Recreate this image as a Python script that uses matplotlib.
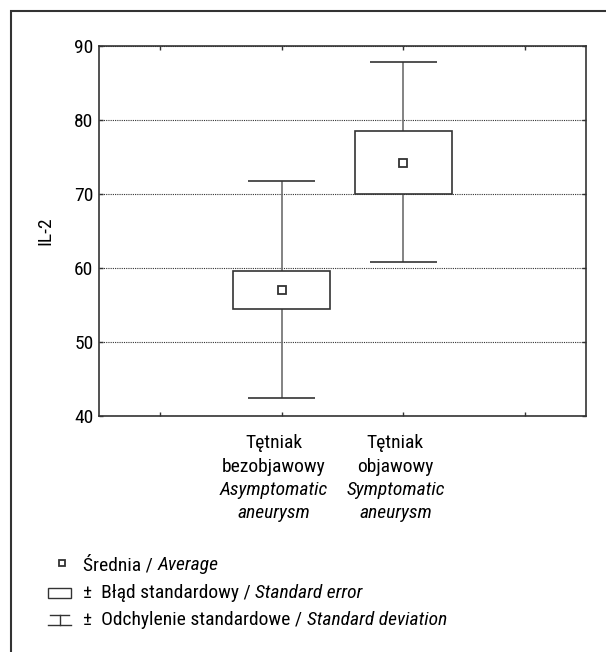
import numpy as np
import matplotlib
matplotlib.use("Agg")
import matplotlib.pyplot as plt
from matplotlib.lines import Line2D
from matplotlib.patches import Rectangle

plt.rcParams['font.family'] = ['Roboto Condensed', 'DejaVu Sans']

# data
groups_pl = ['Tętniak\nbezobjawowy', 'Tętniak\nobjawowy']
groups_en = ['Asymptomatic\naneurysm', 'Symptomatic\naneurysm']
positions = [1.5, 2.5]
means = [57.0, 74.2]
se_low = [54.5, 70.05]
se_high = [59.65, 78.55]
sd_low = [42.4, 60.85]
sd_high = [71.75, 87.8]

dark = '#333333'
whisk = '#6e6e6e'
FS = 14

W, H = 606, 652
fig = plt.figure(figsize=(W / 100, H / 100), dpi=100)
ax = fig.add_axes([99 / W, 1 - 416 / H, (586 - 99) / W, (416 - 46) / H])

# whiskers (sd), behind the boxes
ax.vlines(positions, sd_low, sd_high, color=whisk, lw=1.2, zorder=2)
ax.hlines(sd_low, np.array(positions) - 0.275, np.array(positions) + 0.275,
          color=dark, lw=1.2, zorder=2)
ax.hlines(sd_high, np.array(positions) - 0.275, np.array(positions) + 0.275,
          color=dark, lw=1.2, zorder=2)
# boxes (se)
ax.bar(positions, np.array(se_high) - np.array(se_low), bottom=se_low,
       width=0.8, facecolor='white', edgecolor=dark, lw=1.2, zorder=3)
# means
ax.plot(positions, means, 's', ms=5.5, mfc='white', mec=dark, mew=1.3,
        zorder=4)

ax.set_xlim(0, 4)
ax.set_ylim(40, 90)
ax.set_yticks(np.arange(40, 91, 10))
ax.set_xticks([0.5, 1.5, 2.5, 3.5])
ax.set_xticklabels([])
ax.yaxis.grid(True, linestyle=(0, (1, 1)), color=dark, lw=0.8)
ax.set_axisbelow(True)
ax.tick_params(axis='both', direction='in', length=3, width=1, color=dark,
               top=True, right=True, labelsize=FS, pad=4)
for s in ax.spines.values():
    s.set_color(dark)
    s.set_linewidth(1.2)
ax.set_ylabel('IL-2', fontsize=FS, labelpad=14)

# category labels under the axis
for x, pl, en in zip(positions, groups_pl, groups_en):
    px = ax.transData.transform((x, 0))[0] - 8
    for yy, t in zip([443, 466.5], pl.split('\n')):
        fig.text(px / W, 1 - yy / H, t, ha='center', va='center', fontsize=FS)
    for yy, t in zip([490, 513.5], en.split('\n')):
        fig.text(px / W, 1 - yy / H, t, ha='center', va='center', fontsize=FS,
                 style='italic')

# outer frame
fig.patches.append(Rectangle((11 / W, -0.1), 1.2, 1 - 11 / H + 0.1,
                             transform=fig.transFigure, fill=False,
                             edgecolor=dark, lw=1.5))

# legend
fig.canvas.draw()
renderer = fig.canvas.get_renderer()


def mixed_text(x, y, parts):
    for s, style in parts:
        t = fig.text(x / W, 1 - y / H, s, ha='left', va='center', fontsize=FS,
                     style=style)
        bb = t.get_window_extent(renderer)
        x += bb.width


legend_rows = [
    [('Średnia / ', 'normal'), ('Average', 'italic')],
    [('±  Błąd standardowy / ', 'normal'), ('Standard error', 'italic')],
    [('±  Odchylenie standardowe / ', 'normal'), ('Standard deviation', 'italic')],
]
row_y = [565, 593, 620]
for parts, yy in zip(legend_rows, row_y):
    mixed_text(83, yy, parts)

fig.lines.append(Line2D([62 / W], [1 - 563 / H], marker='s', ms=4.5,
                        mfc='white', mec=dark, mew=1.3,
                        transform=fig.transFigure))
fig.patches.append(Rectangle((48 / W, 1 - 598 / H), 23 / W, 10 / H,
                             transform=fig.transFigure, fill=False,
                             edgecolor=dark, lw=1))
for xs, ys in [([48, 71], [625, 625]), ([50, 69], [615, 615]),
               ([59.5, 59.5], [615, 625])]:
    fig.lines.append(Line2D(np.array(xs) / W, 1 - np.array(ys) / H,
                            color=dark, lw=1, transform=fig.transFigure))

fig.savefig('out.png', dpi=100)
